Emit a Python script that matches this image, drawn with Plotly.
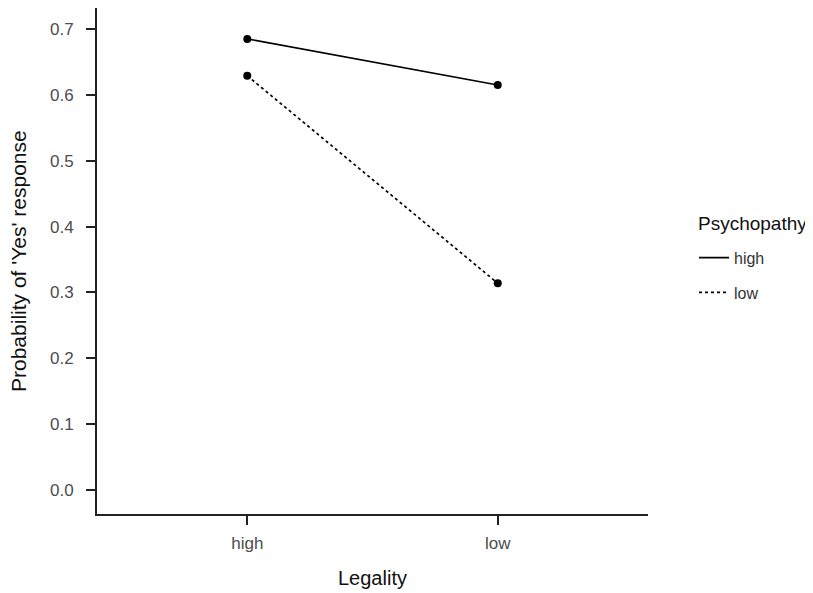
import plotly.graph_objects as go

legality = ["high", "low"]
psy_high = [0.685, 0.615]
psy_low = [0.629, 0.314]
y_ticks = [0.0, 0.1, 0.2, 0.3, 0.4, 0.5, 0.6, 0.7]

FONT = "Liberation Sans, Arial, sans-serif"
TICKCOL = "#4d4d4d"
AXCOL = "#222222"

# page body has an 8px margin, so the figure is drawn 8px smaller and shifted
W, H = 805, 585
ML, MR, MT, MB = 89, 165, 0, 79
PW = W - ML - MR   # 551
PH = H - MT - MB   # 506

fig = go.Figure()
# lines (shown in legend)
fig.add_trace(go.Scatter(x=legality, y=psy_high, name="high", mode="lines",
                         legendgroup="a",
                         line=dict(color="black", width=1.7, dash="solid")))
fig.add_trace(go.Scatter(x=legality, y=psy_low, name="low", mode="lines",
                         legendgroup="b",
                         line=dict(color="black", width=1.7, dash="3px,3px")))
# points (not in legend)
fig.add_trace(go.Scatter(x=legality, y=psy_high, mode="markers", showlegend=False,
                         marker=dict(color="black", size=8)))
fig.add_trace(go.Scatter(x=legality, y=psy_low, mode="markers", showlegend=False,
                         marker=dict(color="black", size=8)))

fig.update_layout(
    template="none",
    width=W, height=H,
    margin=dict(l=ML, r=MR, t=MT, b=MB, autoexpand=False),
    plot_bgcolor="white", paper_bgcolor="white",
    font=dict(family=FONT, size=17, color="#000"),
    showlegend=True,
    legend=dict(
        x=(699 - 5 - 97) / PW, xanchor="left", y=0.54, yanchor="top",
        font=dict(size=16, color="#333"),
        itemwidth=30,
        traceorder="grouped",
        tracegroupgap=11,
        bgcolor="rgba(0,0,0,0)",
    ),
    xaxis=dict(
        type="category", range=[-0.6, 1.6], automargin=False,
        showline=True, linecolor=AXCOL, linewidth=1.8,
        ticks="outside", ticklen=9, tickwidth=1.8, tickcolor=AXCOL,
        tickfont=dict(size=17, color=TICKCOL),
        ticklabelstandoff=4,
        showgrid=False, zeroline=False,
    ),
    yaxis=dict(
        range=[-0.0364, 0.7319], automargin=False,
        tickvals=y_ticks, ticktext=[f"{v:.1f}" for v in y_ticks],
        showline=True, linecolor=AXCOL, linewidth=1.8,
        ticks="outside", ticklen=9, tickwidth=1.8, tickcolor=AXCOL,
        tickfont=dict(size=17, color=TICKCOL),
        ticklabelstandoff=9,
        showgrid=False, zeroline=False,
    ),
    annotations=[
        dict(text="Legality", xref="paper", yref="paper", x=0.5, y=-64 / PH,
             xanchor="center", yanchor="middle", showarrow=False,
             font=dict(size=20, color="#111")),
        dict(text="Probability of 'Yes' response", xref="paper", yref="paper",
             x=(18 - 97) / PW, y=0.5, xanchor="center", yanchor="middle",
             textangle=-90, showarrow=False,
             font=dict(size=21, color="#111")),
        dict(text="Psychopathy", xref="paper", yref="paper",
             x=(696 - 97) / PW, y=(514 - 223) / PH, xanchor="left", yanchor="middle",
             showarrow=False, font=dict(size=19, color="#111")),
    ],
)

fig.write_html("out.html")
